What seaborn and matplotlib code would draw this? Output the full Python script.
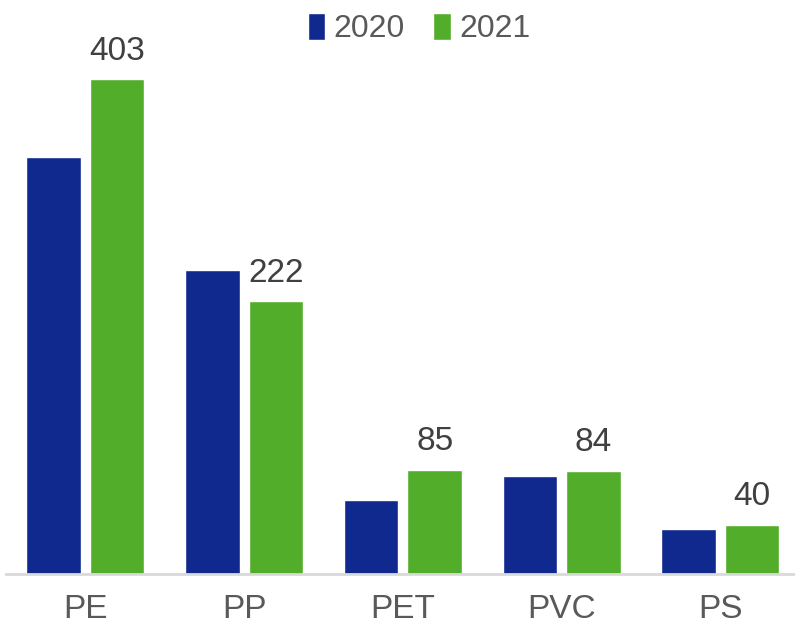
import pandas as pd
import matplotlib
matplotlib.use("Agg")
import matplotlib.pyplot as plt
import seaborn as sns

categories = ["PE", "PP", "PET", "PVC", "PS"]
years = ["2020", "2021"]
values_2020 = [340, 248, 60, 80, 37]
values_2021 = [403, 222, 85, 84, 40]

df = pd.DataFrame({
    "Polymer": categories * 2,
    "Year": [years[0]] * len(categories) + [years[1]] * len(categories),
    "Value": values_2020 + values_2021,
})

sns.set_style("white")
plt.rcParams["font.family"] = ["Liberation Sans", "DejaVu Sans"]

fig = plt.figure(figsize=(7.95, 6.24), dpi=100)
ax = fig.add_axes([6 / 795, 0.08, 1 - 6 / 795 + 0.006, 0.86])

sns.barplot(
    data=df, x="Polymer", y="Value", hue="Year",
    palette=["#10298E", "#52AE2A"], width=0.8, gap=0.14,
    saturation=1, errorbar=None, ax=ax,
)

# labels only on the 2021 bars
for p, v in zip(ax.containers[1], values_2021):
    ax.annotate(str(v), (p.get_x() + p.get_width() / 2, p.get_height()),
                xytext=(0, 9), textcoords="offset points",
                ha="center", va="bottom", fontsize=24, color="#404040")

ax.set_ylim(0, 437)
ax.set_xlim(-0.5, 4.5)
ax.set_xlabel("")
ax.set_ylabel("")
ax.set_yticks([])
ax.tick_params(axis="x", length=0, pad=14, labelsize=24, labelcolor="#595959")
for s in ["top", "right", "left"]:
    ax.spines[s].set_visible(False)
ax.spines["bottom"].set_color("#D9D9D9")
ax.spines["bottom"].set_linewidth(2)

ax.legend(title=None, loc="upper center", bbox_to_anchor=(0.527, 1.025),
          bbox_transform=fig.transFigure, ncol=2, frameon=False,
          fontsize=23, labelcolor="#595959", handlelength=0.55, handleheight=0.9,
          handletextpad=0.25, columnspacing=0.9)

fig.savefig("out.png", dpi=100)
